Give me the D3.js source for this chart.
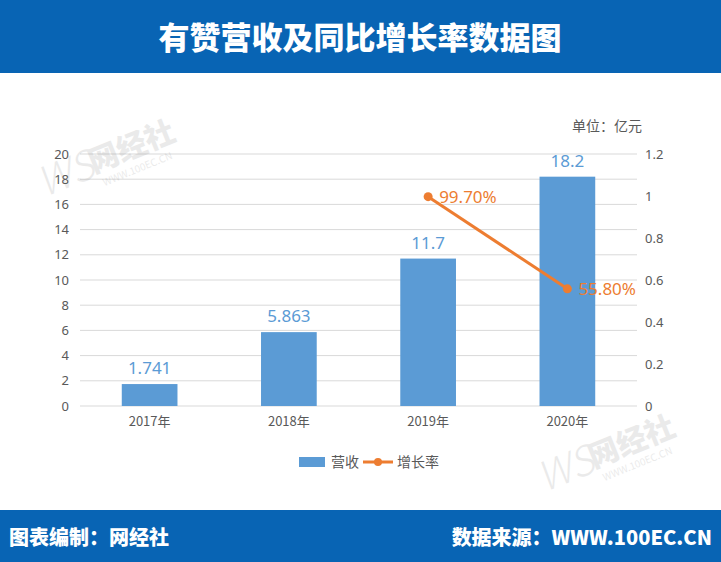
<!DOCTYPE html>
<html>
<head>
<meta charset="utf-8">
<script src="https://cdn.jsdelivr.net/npm/d3@7"></script>
<style>
  body { margin: 0; background: #fff; }
  svg text { font-family: "Noto Sans CJK SC", "Microsoft YaHei", sans-serif; }
</style>
</head>
<body>
<svg id="chart" width="721" height="562"></svg>
<script>
var years = ["2017年", "2018年", "2019年", "2020年"];
var revenue = [1.741, 5.863, 11.7, 18.2];
var revenueLabels = ["1.741", "5.863", "11.7", "18.2"];
var growth = [null, null, 0.997, 0.558];
var growthLabels = [null, null, "99.70%", "55.80%"];
var leftTicks = [0, 2, 4, 6, 8, 10, 12, 14, 16, 18, 20];
var rightTicks = [0, 0.2, 0.4, 0.6, 0.8, 1, 1.2];

var svg = d3.select("#chart"),
    margin = {top: 154, right: 84, bottom: 156, left: 80},
    width = 721 - margin.left - margin.right,
    height = 562 - margin.top - margin.bottom,
    g = svg.append("g").attr("transform", "translate(" + margin.left + "," + margin.top + ")");

var blue = "#0864b4",
    barColor = "#5b9bd5",
    lineColor = "#ed7d31",
    textColor = "#595959";

// header + footer bands
svg.append("rect").attr("x", 0).attr("y", 0).attr("width", 721).attr("height", 73).attr("fill", blue);
svg.append("text")
    .attr("x", 360).attr("y", 49)
    .attr("text-anchor", "middle")
    .attr("fill", "#fff")
    .style("font-size", "31px").style("font-weight", 900)
    .text("有赞营收及同比增长率数据图");

svg.append("rect").attr("x", 0).attr("y", 510).attr("width", 721).attr("height", 52).attr("fill", blue);
svg.append("text")
    .attr("x", 9).attr("y", 545)
    .attr("fill", "#fff")
    .style("font-size", "20px").style("font-weight", 900)
    .text("图表编制：网经社");
svg.append("text")
    .attr("x", 712).attr("y", 545)
    .attr("text-anchor", "end")
    .attr("fill", "#fff")
    .style("font-size", "20px").style("font-weight", 900)
    .text("数据来源：WWW.100EC.CN");

// faint watermarks
[[100, 175], [600, 470]].forEach(function(p) {
  var w = svg.append("g").attr("transform", "translate(" + p[0] + "," + p[1] + ") rotate(-22)").attr("opacity", 0.13);
  w.append("text").attr("x", -60).attr("y", 0).attr("fill", "#666")
    .style("font-size", "40px").style("font-style", "italic").style("font-weight", 300).text("WS");
  w.append("text").attr("x", -5).attr("y", -4).attr("fill", "#666")
    .style("font-size", "30px").style("font-weight", 900).text("网经社");
  w.append("text").attr("x", 0).attr("y", 12).attr("fill", "#666")
    .style("font-size", "10px").text("WWW.100EC.CN");
});

var xScale = d3.scaleBand().domain(years).range([0, width]).paddingInner(0.6).paddingOuter(0.3),
    yScale = d3.scaleLinear().domain([0, 20]).range([height, 0]),
    y2Scale = d3.scaleLinear().domain([0, 1.2]).range([height, 0]);

// gridlines
g.selectAll(".grid")
  .data(leftTicks)
  .enter().append("line")
    .attr("class", "grid")
    .attr("x1", 0).attr("x2", width)
    .attr("y1", function(d) { return yScale(d); })
    .attr("y2", function(d) { return yScale(d); })
    .attr("stroke", "#d9d9d9").attr("stroke-width", 1);

// left axis
var yAxis = d3.axisLeft(yScale).tickValues(leftTicks).tickSize(0).tickPadding(11);
g.append("g").attr("class", "axis axis--y").call(yAxis)
  .call(function(a) { a.select(".domain").remove(); })
  .selectAll("text").attr("fill", textColor).style("font-size", "13px")
    .style("font-family", "Noto Sans, sans-serif");

// right axis
var y2Axis = d3.axisRight(y2Scale).tickValues(rightTicks).tickSize(0).tickPadding(8)
    .tickFormat(function(d) { return d3.format("")(+d.toFixed(1)); });
g.append("g").attr("class", "axis axis--y2").attr("transform", "translate(" + width + ",0)").call(y2Axis)
  .call(function(a) { a.select(".domain").remove(); })
  .selectAll("text").attr("fill", textColor).style("font-size", "13px")
    .style("font-family", "Noto Sans, sans-serif");

// x axis
var xAxis = d3.axisBottom(xScale).tickSize(0).tickPadding(11);
g.append("g").attr("class", "axis axis--x").attr("transform", "translate(0," + height + ")").call(xAxis)
  .call(function(a) { a.select(".domain").remove(); })
  .selectAll("text").attr("fill", textColor).style("font-size", "13px");

// bars
g.selectAll(".bar")
  .data(revenue)
  .enter().append("rect")
    .attr("class", "bar")
    .attr("x", function(d, i) { return xScale(years[i]); })
    .attr("width", xScale.bandwidth())
    .attr("y", function(d) { return yScale(d); })
    .attr("height", function(d) { return height - yScale(d); })
    .attr("fill", barColor);

g.selectAll(".bar-label")
  .data(revenue)
  .enter().append("text")
    .attr("class", "bar-label")
    .attr("x", function(d, i) { return xScale(years[i]) + xScale.bandwidth() / 2; })
    .attr("y", function(d) { return yScale(d) - 10; })
    .attr("text-anchor", "middle")
    .attr("fill", barColor)
    .style("font-size", "17px").style("font-family", "Noto Sans, sans-serif")
    .text(function(d, i) { return revenueLabels[i]; });

// growth line
var pts = growth.map(function(v, i) { return {year: years[i], v: v, label: growthLabels[i]}; })
    .filter(function(d) { return d.v !== null; });
var line = d3.line()
    .x(function(d) { return xScale(d.year) + xScale.bandwidth() / 2; })
    .y(function(d) { return y2Scale(d.v); });

g.append("path")
    .datum(pts)
    .attr("d", line)
    .attr("fill", "none")
    .attr("stroke", lineColor)
    .attr("stroke-width", 3);

g.selectAll(".point")
  .data(pts)
  .enter().append("circle")
    .attr("class", "point")
    .attr("cx", function(d) { return xScale(d.year) + xScale.bandwidth() / 2; })
    .attr("cy", function(d) { return y2Scale(d.v); })
    .attr("r", 4.5)
    .attr("fill", lineColor);

g.selectAll(".point-label")
  .data(pts)
  .enter().append("text")
    .attr("class", "point-label")
    .attr("x", function(d) { return xScale(d.year) + xScale.bandwidth() / 2 + 11; })
    .attr("y", function(d) { return y2Scale(d.v) + 6; })
    .attr("fill", lineColor)
    .style("font-size", "17px").style("font-family", "Noto Sans, sans-serif")
    .text(function(d) { return d.label; });

// unit
svg.append("text")
  .attr("x", 572).attr("y", 131)
  .attr("fill", textColor)
  .style("font-size", "14px")
  .text("单位：亿元");

// legend
var legend = svg.append("g").attr("transform", "translate(299,462)");
legend.append("rect").attr("x", 0).attr("y", -5).attr("width", 26).attr("height", 10).attr("fill", barColor);
legend.append("text").attr("x", 32).attr("y", 5).attr("fill", textColor).style("font-size", "14px").text("营收");
legend.append("line").attr("x1", 64).attr("x2", 94).attr("y1", 0).attr("y2", 0)
  .attr("stroke", lineColor).attr("stroke-width", 3);
legend.append("circle").attr("cx", 79).attr("cy", 0).attr("r", 4).attr("fill", lineColor);
legend.append("text").attr("x", 98).attr("y", 5).attr("fill", textColor).style("font-size", "14px").text("增长率");
</script>
</body>
</html>
